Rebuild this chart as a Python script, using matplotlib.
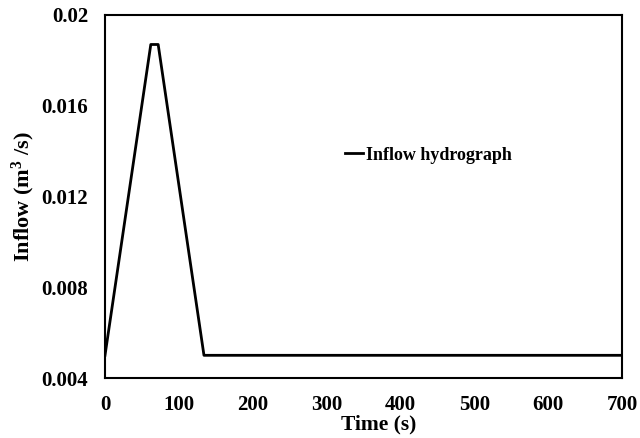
import matplotlib
matplotlib.use("Agg")
import matplotlib.pyplot as plt

time_s = [0, 62, 72, 134, 700]
inflow = [0.005, 0.0187, 0.0187, 0.005, 0.005]
xticks = [0, 100, 200, 300, 400, 500, 600, 700]
yticks = [0.004, 0.008, 0.012, 0.016, 0.02]
ytick_labels = ["0.004", "0.008", "0.012", "0.016", "0.02"]

plt.rcParams['font.family'] = ['Liberation Serif', 'DejaVu Serif']
plt.rcParams['font.weight'] = 'bold'
plt.rcParams['mathtext.fontset'] = 'custom'
plt.rcParams['mathtext.rm'] = 'Liberation Serif:bold'
plt.rcParams['mathtext.bf'] = 'Liberation Serif:bold'
plt.rcParams['mathtext.it'] = 'Liberation Serif:bold'
plt.rcParams['mathtext.default'] = 'bf'

fig = plt.figure(figsize=(6.4, 4.38), dpi=100)
ax = fig.add_axes([105/640, 1 - 378/438, (622-105)/640, (378-15)/438])
ax.plot(time_s, inflow, color='black', linewidth=2, label='Inflow hydrograph')
ax.set_xlim(0, 700)
ax.set_ylim(0.004, 0.02)
ax.set_xticks(xticks)
ax.set_yticks(yticks)
ax.set_yticklabels(ytick_labels)
ax.tick_params(length=0, labelsize=15, pad=12)
for lab in ax.get_xticklabels() + ax.get_yticklabels():
    lab.set_fontweight('bold')
for s in ax.spines.values():
    s.set_linewidth(1.5)
ax.set_xlabel('Time (s)', fontsize=15.5, fontweight='bold')
ax.xaxis.set_label_coords(0.53, -0.10)
ax.set_ylabel('Inflow (m$^3$ /s)', fontsize=16, fontweight='bold')
ax.yaxis.set_label_coords(-0.131, 0.50)
ax.legend(loc='center left', bbox_to_anchor=(0.464, 0.614), frameon=False,
          borderaxespad=0, borderpad=0,
          handlelength=1.0, handletextpad=0.15, prop={'weight': 'bold', 'size': 13})
fig.savefig('out.png', dpi=100)
